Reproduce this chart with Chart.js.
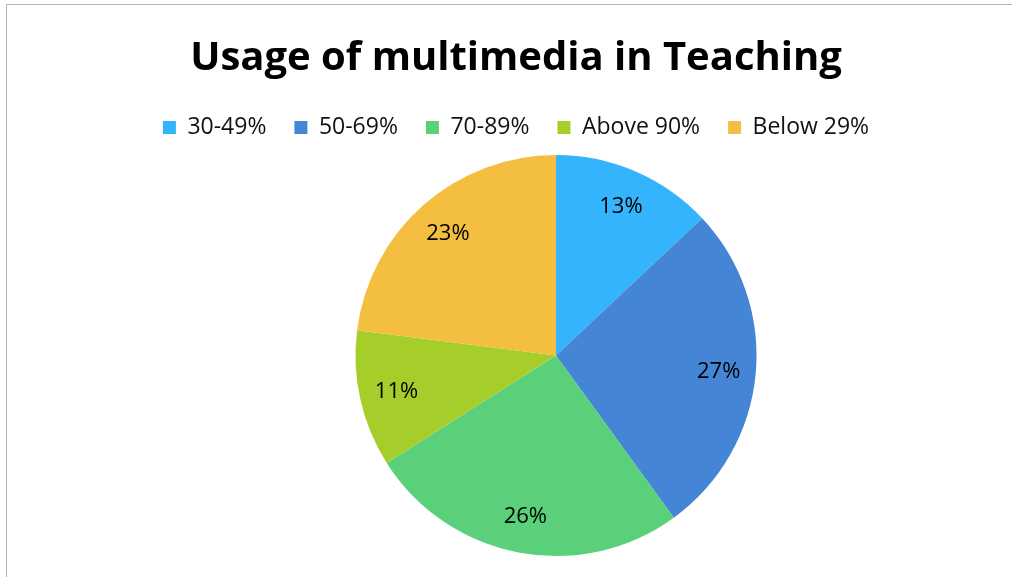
<!DOCTYPE html>
<html>
<head>
<meta charset="utf-8">
<script src="https://cdn.jsdelivr.net/npm/chart.js@4/dist/chart.umd.min.js"></script>
<style>
  html, body { margin: 0; padding: 0; background: #fff; overflow: hidden; width: 1012px; height: 577px; }
  #frame { position: absolute; left: 6px; top: 4px; width: 1100px; height: 700px;
           border-left: 1px solid #b4b4b4; border-top: 1px solid #b4b4b4; }
  #wrap { position: absolute; left: 0; top: 0; width: 1032px; height: 577px; }
</style>
</head>
<body>
<div id="frame"></div>
<div id="wrap"><canvas id="c" width="1032" height="577"></canvas></div>
<script>
const chartTitle = "Usage of multimedia in Teaching";
const categories = ["30-49%", "50-69%", "70-89%", "Above 90%", "Below 29%"];
const shares = [13, 27, 26, 11, 23];
const sliceColors = ["#33b4fc", "#4485d5", "#5ad07a", "#a6ce2a", "#f4bf41"];

const FONT = "'Open Sans', Lato, 'Liberation Sans', sans-serif";

const shiftPlot = {
  id: "shiftPlot",
  afterLayout(chart) {
    const a = chart.chartArea;
    a.left += 80;
    a.top += 6;
    a.width = a.right - a.left;
    a.height = a.bottom - a.top;
  }
};

const sliceLabels = {
  id: "sliceLabels",
  afterDatasetsDraw(chart) {
    const ctx = chart.ctx;
    const meta = chart.getDatasetMeta(0);
    ctx.save();
    ctx.font = "22px " + FONT;
    ctx.fillStyle = "#000";
    ctx.textAlign = "center";
    ctx.textBaseline = "middle";
    meta.data.forEach((arc, i) => {
      const p = arc.getProps(["x", "y", "startAngle", "endAngle", "outerRadius"], true);
      const mid = (p.startAngle + p.endAngle) / 2;
      const r = p.outerRadius * 0.815;
      ctx.fillText(shares[i] + "%", p.x + Math.cos(mid) * r, p.y + Math.sin(mid) * r + 1);
    });
    ctx.restore();
  }
};

new Chart(document.getElementById("c"), {
  type: "pie",
  data: {
    labels: categories,
    datasets: [{
      data: shares,
      backgroundColor: sliceColors,
      borderWidth: 0
    }]
  },
  options: {
    responsive: false,
    animation: false,
    layout: { padding: { top: 0, bottom: 21, left: 0, right: 0 } },
    plugins: {
      title: {
        display: true,
        text: chartTitle,
        color: "#000",
        font: { family: FONT, size: 40, weight: "bold" },
        padding: { top: 35, bottom: 5 }
      },
      legend: {
        display: true,
        position: "top",
        labels: {
          color: "#111",
          font: { family: FONT, size: 23 },
          boxWidth: 13,
          boxHeight: 13,
          padding: 28
        }
      },
      tooltip: { enabled: false }
    }
  },
  plugins: [shiftPlot, sliceLabels]
});
</script>
</body>
</html>
